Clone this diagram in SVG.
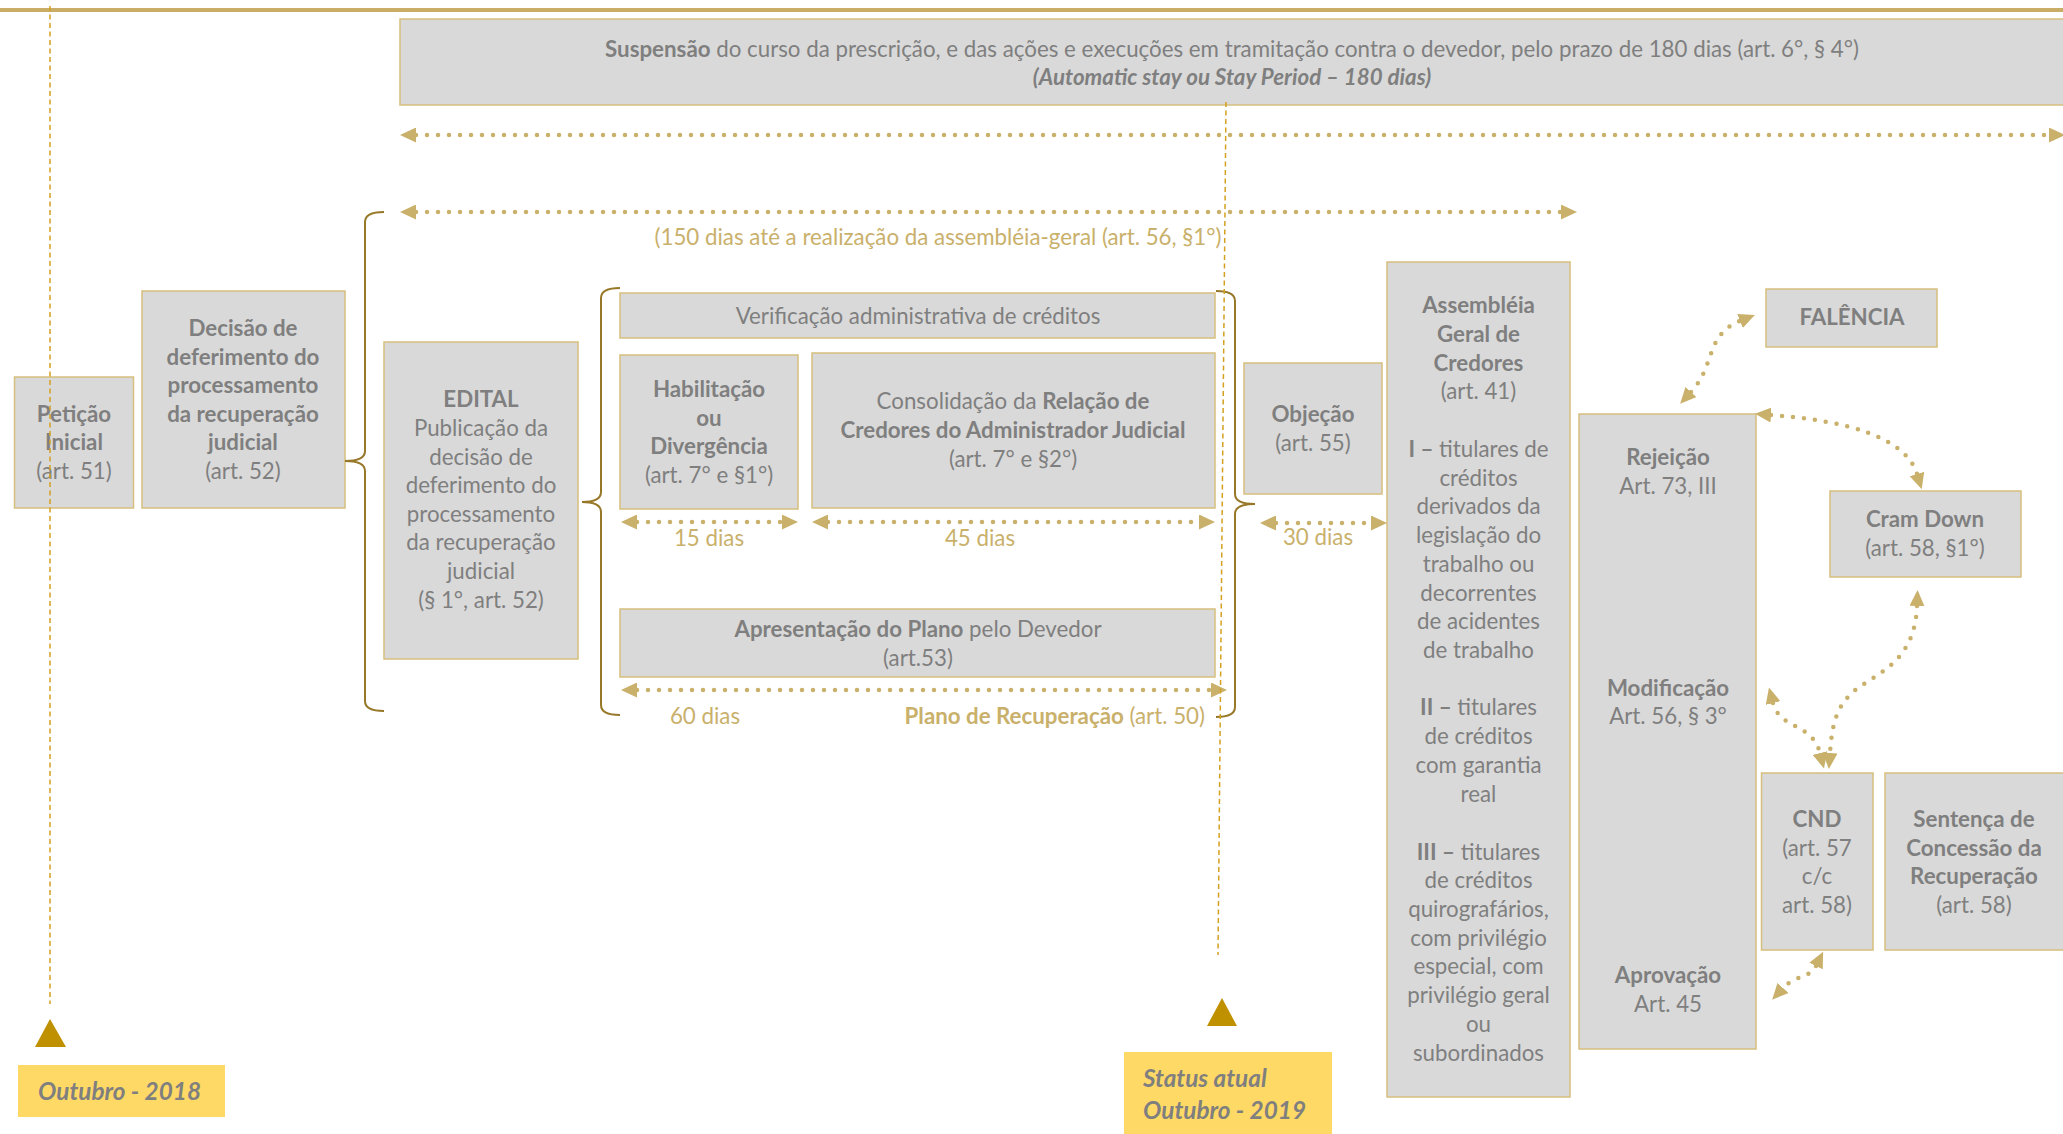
<svg xmlns="http://www.w3.org/2000/svg" width="2063" height="1134" viewBox="0 0 2063 1134">
<style>
.bg{fill:#ffffff}
.box{fill:#d9d9d9;stroke:#d6be7c;stroke-width:1.5}
.yel{fill:#ffd966}
.t{font-family:Lato,"Liberation Sans",sans-serif;font-size:22.3px;fill:#7f7f7f;text-anchor:middle}
.b{font-weight:bold}
.g{fill:#c9b06b}
.yt{font-family:Lato,"Liberation Sans",sans-serif;font-size:24.3px;fill:#7f7f7f;font-weight:bold;font-style:italic}
.dot{fill:none;stroke:#c9b06b;stroke-width:4.5;stroke-linecap:round;stroke-dasharray:0 11;marker-start:url(#ah);marker-end:url(#ah)}
.brace{fill:none;stroke:#977829;stroke-width:2}
.dash{fill:none;stroke:#d4a020;stroke-width:1.5;stroke-dasharray:5 3.5}
.tri{fill:#bf9000}
</style>
<defs>
<marker id="ah" viewBox="0 0 16 15" refX="0" refY="7.5" markerWidth="16" markerHeight="15" markerUnits="userSpaceOnUse" orient="auto-start-reverse">
<path d="M0,0 L16,7.5 L0,15 z" fill="#c9b06b"/>
</marker>
</defs>
<rect class="bg" x="0" y="0" width="2063" height="1134"/>
<rect x="0" y="8" width="2063" height="4" fill="#c9ad66"/>

<g id="suspensao">
<rect class="box" x="400" y="19" width="1670" height="86"/>
<text class="t" x="1232" y="57"><tspan class="b">Suspensão</tspan> do curso da prescrição, e das ações e execuções em tramitação contra o devedor, pelo prazo de 180 dias (art. 6°, § 4°)</text>
<text class="t b" x="1232" y="85" font-style="italic">(Automatic stay ou Stay Period – 180 dias)</text>
</g>

<g id="peticao">
<rect class="box" x="14.5" y="377" width="119" height="131"/>
<text class="t b" x="74" y="422">Petição</text>
<text class="t b" x="74" y="450">Inicial</text>
<text class="t" x="74" y="479">(art. 51)</text>
</g>

<g id="decisao">
<rect class="box" x="142" y="291" width="203" height="217"/>
<text class="t b" x="243" y="336">Decisão de</text>
<text class="t b" x="243" y="365">deferimento do</text>
<text class="t b" x="243" y="393">processamento</text>
<text class="t b" x="243" y="422">da recuperação</text>
<text class="t b" x="243" y="450">judicial</text>
<text class="t" x="243" y="479">(art. 52)</text>
</g>

<g id="edital">
<rect class="box" x="384" y="342" width="194" height="317"/>
<text class="t b" x="481" y="407">EDITAL</text>
<text class="t" x="481" y="436">Publicação da</text>
<text class="t" x="481" y="465">decisão de</text>
<text class="t" x="481" y="493">deferimento do</text>
<text class="t" x="481" y="522">processamento</text>
<text class="t" x="481" y="550">da recuperação</text>
<text class="t" x="481" y="579">judicial</text>
<text class="t" x="481" y="608">(§ 1°, art. 52)</text>
</g>

<g id="verificacao">
<rect class="box" x="620" y="293" width="595" height="45"/>
<text class="t" x="918" y="324">Verificação administrativa de créditos</text>
</g>

<g id="habilitacao">
<rect class="box" x="620" y="355" width="178" height="154"/>
<text class="t b" x="709" y="397">Habilitação</text>
<text class="t b" x="709" y="426">ou</text>
<text class="t b" x="709" y="454">Divergência</text>
<text class="t" x="709" y="483">(art. 7° e §1°)</text>
</g>

<g id="consolidacao">
<rect class="box" x="812" y="353" width="403" height="155"/>
<text class="t" x="1013" y="409">Consolidação da <tspan class="b">Relação de</tspan></text>
<text class="t b" x="1013" y="438">Credores do Administrador Judicial</text>
<text class="t" x="1013" y="467">(art. 7° e §2°)</text>
</g>

<g id="apresentacao">
<rect class="box" x="620" y="609" width="595" height="68"/>
<text class="t" x="918" y="637"><tspan class="b">Apresentação do Plano</tspan> pelo Devedor</text>
<text class="t" x="918" y="666">(art.53)</text>
</g>

<g id="objecao">
<rect class="box" x="1244" y="363" width="138" height="131"/>
<text class="t b" x="1313" y="422">Objeção</text>
<text class="t" x="1313" y="451">(art. 55)</text>
</g>

<g id="assembleia">
<rect class="box" x="1387" y="262" width="183" height="835"/>
<text class="t b" x="1478.5" y="313">Assembléia</text>
<text class="t b" x="1478.5" y="342">Geral de</text>
<text class="t b" x="1478.5" y="371">Credores</text>
<text class="t" x="1478.5" y="399">(art. 41)</text>
<text class="t" x="1478.5" y="457"><tspan class="b">I –</tspan> titulares de</text>
<text class="t" x="1478.5" y="486">créditos</text>
<text class="t" x="1478.5" y="514">derivados da</text>
<text class="t" x="1478.5" y="543">legislação do</text>
<text class="t" x="1478.5" y="572">trabalho ou</text>
<text class="t" x="1478.5" y="601">decorrentes</text>
<text class="t" x="1478.5" y="629">de acidentes</text>
<text class="t" x="1478.5" y="658">de trabalho</text>
<text class="t" x="1478.5" y="715"><tspan class="b">II –</tspan> titulares</text>
<text class="t" x="1478.5" y="744">de créditos</text>
<text class="t" x="1478.5" y="773">com garantia</text>
<text class="t" x="1478.5" y="802">real</text>
<text class="t" x="1478.5" y="860"><tspan class="b">III –</tspan> titulares</text>
<text class="t" x="1478.5" y="888">de créditos</text>
<text class="t" x="1478.5" y="917">quirografários,</text>
<text class="t" x="1478.5" y="946">com privilégio</text>
<text class="t" x="1478.5" y="974">especial, com</text>
<text class="t" x="1478.5" y="1003">privilégio geral</text>
<text class="t" x="1478.5" y="1032">ou</text>
<text class="t" x="1478.5" y="1061">subordinados</text>
</g>

<g id="votacao">
<rect class="box" x="1579" y="414" width="177" height="635"/>
<text class="t b" x="1668" y="465">Rejeição</text>
<text class="t" x="1668" y="494">Art. 73, III</text>
<text class="t b" x="1668" y="696">Modificação</text>
<text class="t" x="1668" y="724">Art. 56, § 3°</text>
<text class="t b" x="1668" y="983">Aprovação</text>
<text class="t" x="1668" y="1012">Art. 45</text>
</g>

<g id="falencia">
<rect class="box" x="1766" y="289" width="171" height="58"/>
<text class="t b" x="1852" y="325">FALÊNCIA</text>
</g>

<g id="cramdown">
<rect class="box" x="1830" y="491" width="191" height="86"/>
<text class="t b" x="1925" y="527">Cram Down</text>
<text class="t" x="1925" y="556">(art. 58, §1°)</text>
</g>

<g id="cnd">
<rect class="box" x="1761.5" y="773" width="111.5" height="177"/>
<text class="t b" x="1817" y="827">CND</text>
<text class="t" x="1817" y="856">(art. 57</text>
<text class="t" x="1817" y="884">c/c</text>
<text class="t" x="1817" y="913">art. 58)</text>
</g>

<g id="sentenca">
<rect class="box" x="1885" y="773" width="190" height="177"/>
<text class="t b" x="1974" y="827">Sentença de</text>
<text class="t b" x="1974" y="856">Concessão da</text>
<text class="t b" x="1974" y="884">Recuperação</text>
<text class="t" x="1974" y="913">(art. 58)</text>
</g>

<g id="outubro2018">
<rect class="yel" x="18" y="1065" width="207" height="52"/>
<text class="yt" x="38" y="1100">Outubro - 2018</text>
</g>

<g id="status">
<rect class="yel" x="1124" y="1052" width="208" height="90"/>
<text class="yt" x="1143" y="1087">Status atual</text>
<text class="yt" x="1143" y="1119">Outubro - 2019</text>
</g>

<g id="connectors">
<path class="dot" d="M416,135 L2049,135"/>
<path class="dot" d="M416,212 L1561,212"/>
<path class="dot" d="M637,522 L782,522"/>
<path class="dot" d="M828,522 L1199,522"/>
<path class="dot" d="M637,690 L1211,690"/>
<path class="dot" d="M1276,523 L1371,523"/>
<path class="dot" d="M1691,392 C1716,365 1705,335 1740,321"/>
<path class="dot" d="M1771,415 C1840,420 1905,435 1917,474"/>
<path class="dot" d="M1773,703 C1780,730 1812,722 1820,753"/>
<path class="dot" d="M1917,606 C1915,660 1880,672 1858,688 S1832,725 1830,753"/>
<path class="dot" d="M1816,966 C1810,978 1795,975 1783,988"/>
<path class="brace" d="M384,212 Q365,212 365,222 L365,451 Q365,461 345,461 Q365,461 365,471 L365,701 Q365,711 384,711"/>
<path class="brace" d="M620,288 Q601,288 601,298 L601,492 Q601,502 582,502 Q601,502 601,512 L601,705 Q601,715 620,715"/>
<path class="brace" d="M1216,291 Q1235,291 1235,301 L1235,494 Q1235,504 1255,504 Q1235,504 1235,514 L1235,707 Q1235,717 1216,717"/>
<text class="t g" x="938" y="245">(150 dias até a realização da assembléia-geral (art. 56, §1°)</text>
<text class="t g" x="709" y="546">15 dias</text>
<text class="t g" x="980" y="546">45 dias</text>
<text class="t g" x="705" y="724">60 dias</text>
<text class="t g" x="1205" y="724" style="text-anchor:end"><tspan class="b">Plano de Recuperação</tspan> (art. 50)</text>
<text class="t g" x="1318" y="545">30 dias</text>
<path class="dash" d="M50,6 L50,1004"/>
<path class="dash" d="M1226,102 L1218,955"/>
<path class="tri" d="M50,1019 L66,1047 L35,1047 z"/>
<path class="tri" d="M1222,998 L1237,1026 L1207,1026 z"/>
</g>
</svg>
